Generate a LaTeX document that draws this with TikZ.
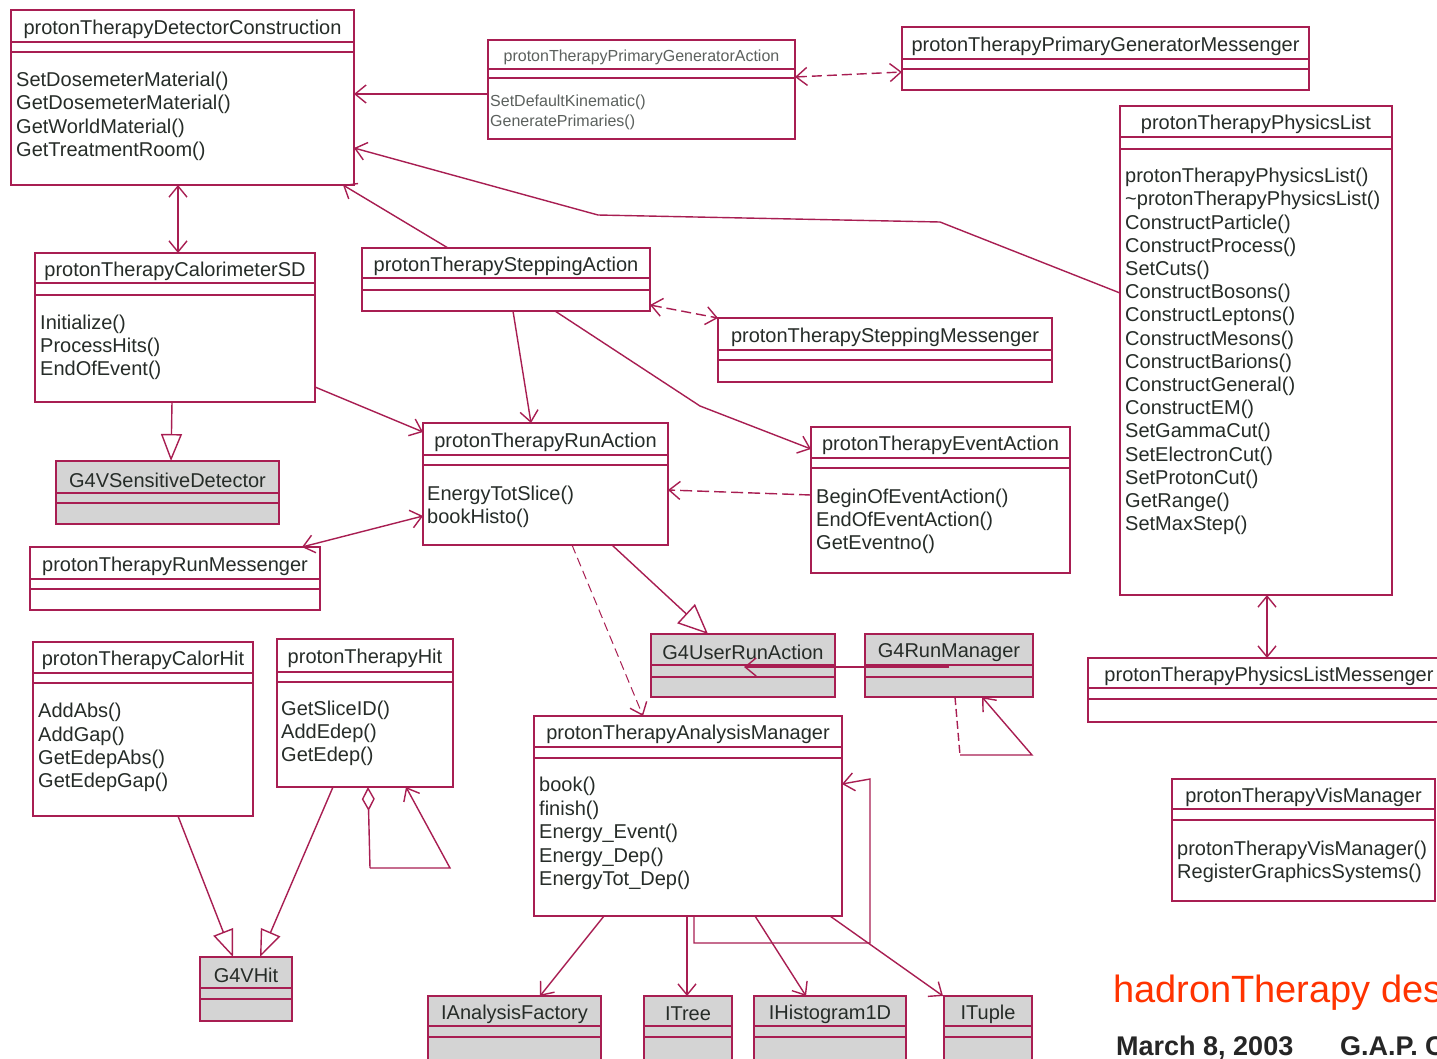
\documentclass[tikz,border=0pt]{standalone}
\usepackage{fontspec}
\setmainfont{Liberation Sans}
\usetikzlibrary{arrows.meta}
\definecolor{umlline}{RGB}{168,30,82}
\definecolor{umltext}{RGB}{38,44,40}
\definecolor{umlgray}{RGB}{212,212,212}
\definecolor{footred}{RGB}{255,51,0}
\tikzset{
  uBarb/.tip={Straight Barb[length=11pt,width=18pt,line width=1.4pt]},
  uTri/.tip={Triangle[length=27pt,width=21pt,fill=white,line width=1.4pt]},
  uTriB/.tip={Triangle[length=30pt,width=26pt,fill=white,line width=1.4pt]},
  uDia/.tip={Diamond[length=24pt,width=13pt,fill=white,line width=1.4pt]},
  classbox/.style={draw=umlline,line width=1.7pt,fill=white,inner sep=0pt,outer sep=0pt},
  grayfill/.style={fill=umlgray},
  sepline/.style={draw=umlline,line width=1.7pt},
  ttl/.style={text=umltext,inner sep=0pt,font=\fontsize{20}{24}\selectfont},
  meth/.style={text=umltext,align=left,inner sep=0pt,anchor=north west},
  conn/.style={draw=umlline,line width=1.4pt},
  assoc/.style={conn,-uBarb},
  biassoc/.style={conn,uBarb-uBarb},
  gen/.style={conn,-uTri},
}
\newcommand\umlclass[9]{%
  \pgfmathsetmacro\umlW{#4-#2}%
  \pgfmathsetmacro\umlH{#5-#3}%
  \node[classbox,#9,minimum width=\umlW pt,minimum height=\umlH pt] (#1) at ({(#2+#4)/2},{(#3+#5)/2}) {};%
  \draw[sepline] (#2,#6) -- (#4,#6) (#2,#7) -- (#4,#7);%
  \node[ttl] (#1-title) at ({(#2+#4)/2},{(#3+#6)/2+3}) {#8};%
}
\newcommand\umlmeth[5]{%
  \node[meth,font=\fontsize{20}{#4}\selectfont] (#1) at (#2,#3-7) {#5};%
}
\begin{document}
\begin{tikzpicture}[x=1pt,y=-1pt]
\useasboundingbox (0,0) rectangle (1437,1058);
\fill[white] (0,0) rectangle (1437,1058);
\clip (0,0) rectangle (1437,1058);

% classes
\umlclass{dc}{11}{10}{354}{185}{42}{52}{protonTherapyDetectorConstruction}{}
\umlmeth{dcm}{16}{79}{23.3}{SetDosemeterMaterial()\\GetDosemeterMaterial()\\GetWorldMaterial()\\GetTreatmentRoom()}

\umlclass{pga}{488}{40}{795}{139}{69}{78}{\fontsize{16}{19}\selectfont\color{umltext!75}protonTherapyPrimaryGeneratorAction}{}
\node[meth,text=umltext!75,font=\fontsize{16}{19.5}\selectfont] (pgam) at (490,100-5) {SetDefaultKinematic()\\GeneratePrimaries()};

\umlclass{pgm}{902}{27}{1309}{90}{59}{69}{protonTherapyPrimaryGeneratorMessenger}{}

\umlclass{pl}{1120}{106}{1392}{595}{137}{149}{protonTherapyPhysicsList}{}
\umlmeth{plm-m}{1125}{175}{23.2}{protonTherapyPhysicsList()\\\textasciitilde protonTherapyPhysicsList()\\ConstructParticle()\\ConstructProcess()\\SetCuts()\\ConstructBosons()\\ConstructLeptons()\\ConstructMesons()\\ConstructBarions()\\ConstructGeneral()\\ConstructEM()\\SetGammaCut()\\SetElectronCut()\\SetProtonCut()\\GetRange()\\SetMaxStep()}

\umlclass{csd}{35}{253}{315}{402}{283}{295}{protonTherapyCalorimeterSD}{}
\umlmeth{csdm}{40}{322}{23}{Initialize()\\ProcessHits()\\EndOfEvent()}

\umlclass{g4vsd}{56}{461}{279}{524}{493}{503}{G4VSensitiveDetector}{grayfill}

\umlclass{rm}{30}{547}{320}{610}{579}{589}{protonTherapyRunMessenger}{}

\umlclass{sa}{362}{248}{650}{311}{278}{290}{protonTherapySteppingAction}{}

\umlclass{sm}{718}{318}{1052}{382}{350}{360}{protonTherapySteppingMessenger}{}

\umlclass{ra}{423}{423}{668}{545}{455}{465}{protonTherapyRunAction}{}
\umlmeth{ram}{427}{493}{23}{EnergyTotSlice()\\bookHisto()}

\umlclass{ea}{811}{427}{1070}{573}{458}{468}{protonTherapyEventAction}{}
\umlmeth{eam}{816}{496}{23}{BeginOfEventAction()\\EndOfEventAction()\\GetEventno()}

\umlclass{gura}{651}{634}{835}{697}{665}{677}{G4UserRunAction}{grayfill}
\umlclass{grm}{865}{634}{1033}{697}{665}{677}{G4RunManager}{grayfill}

\umlclass{am}{534}{716}{842}{916}{747}{758}{protonTherapyAnalysisManager}{}
\umlmeth{amm}{539}{784}{23.5}{book()\\finish()\\Energy\_Event()\\Energy\_Dep()\\EnergyTot\_Dep()}

\umlclass{iaf}{428}{996}{601}{1070}{1026}{1037}{IAnalysisFactory}{grayfill}
\umlclass{itree}{644}{996}{732}{1070}{1026}{1037}{ITree}{grayfill}
\umlclass{ihist}{754}{996}{906}{1070}{1026}{1037}{IHistogram1D}{grayfill}
\umlclass{ituple}{944}{996}{1032}{1070}{1026}{1037}{ITuple}{grayfill}

\umlclass{ch}{33}{642}{253}{816}{673}{683}{protonTherapyCalorHit}{}
\umlmeth{chm}{38}{710}{23.3}{AddAbs()\\AddGap()\\GetEdepAbs()\\GetEdepGap()}

\umlclass{h}{277}{639}{453}{787}{672}{682}{protonTherapyHit}{}
\umlmeth{hm}{281}{708}{23}{GetSliceID()\\AddEdep()\\GetEdep()}

\umlclass{g4vhit}{200}{957}{292}{1021}{988}{999}{G4VHit}{grayfill}

\umlclass{plmsg}{1088}{658}{1450}{722}{688}{699}{protonTherapyPhysicsListMessenger}{}

\umlclass{vm}{1172}{779}{1435}{901}{809}{820}{protonTherapyVisManager}{}
\umlmeth{vmm}{1177}{848}{23}{protonTherapyVisManager()\\RegisterGraphicsSystems()}

% connectors
\draw[assoc] (pga.west |- 0,94) -- (dc.east |- 0,94);
\draw[biassoc,dash pattern=on 10pt off 5pt] (pga.east |- 0,77) -- (pgm.west |- 0,72);
\draw[assoc] (pl.west |- 0,293) -- (940,222) -- (598,215) -- (dc.east |- 0,148);
\draw[assoc] (sa.north -| 448,0) -- (dc.south -| 343,0);
\draw[biassoc] (dc.south -| 178,0) -- (csd.north -| 178,0);
\draw[biassoc,dash pattern=on 10pt off 5pt] (sa.east |- 0,305) -- (sm.north west);
\draw[assoc] (sa.south -| 513,0) -- (ra.north -| 531,0);
\draw[assoc] (sa.south -| 555,0) -- (700,406) -- (ea.west |- 0,449);
\draw[assoc] (csd.east |- 0,387) -- (ra.west |- 0,432);
\draw[biassoc] (rm.north -| 302,0) -- (ra.west |- 0,516);
\draw[assoc,dash pattern=on 12pt off 5pt] (ea.west |- 0,495) -- (ra.east |- 0,490);
\draw[gen] (csd.south -| 172,0) -- (g4vsd.north -| 171,0);
\draw[conn,-uTriB] (ra.south -| 612,0) -- (gura.north -| 708,0);
\draw[assoc,line width=1pt,dash pattern=on 9pt off 5pt] (ra.south -| 572,0) -- (am.north -| 643,0);
\coordinate (grmsrc) at (949,667);
\coordinate (gurtip) at (744,667);
\draw[assoc] (grmsrc) -- (gurtip);
\coordinate (grmA) at (960,755);
\coordinate (grmB) at (1032,755);
\draw[conn,dash pattern=on 8pt off 4pt] (grm.south -| 955,0) -- (grmA);
\draw[assoc] (grmA) -- (grmB) -- (grm.south -| 982,0);
\draw[biassoc] (pl.south -| 1267,0) -- (plmsg.north -| 1267,0);
\draw[assoc] (am.south -| 604,0) -- (iaf.north -| 540,0);
\draw[assoc] (am.south -| 687,0) -- (itree.north -| 687,0);
\draw[assoc] (am.south -| 755,0) -- (ihist.north -| 806,0);
\draw[assoc] (am.south -| 830,0) -- (ituple.north -| 943,0);
\coordinate (amA) at (694,943);
\coordinate (amB) at (870,943);
\coordinate (amC) at (870,779);
\draw[assoc] (am.south -| 694,0) -- (amA) -- (amB) -- (amC) -- (am.east |- 0,784);
\draw[gen] (ch.south -| 178,0) -- (g4vhit.north -| 233,0);
\draw[gen] (h.south -| 333,0) -- (g4vhit.north -| 260,0);
\coordinate (hA) at (370,868);
\coordinate (hB) at (450,868);
\draw[conn,uDia-] (h.south -| 368,0) -- (hA);
\draw[assoc] (hA) -- (hB) -- (h.south -| 406,0);

% footer (cut off at the right edge, as in the reference)
\node[anchor=base west,inner sep=0pt,text=footred,font=\fontsize{38}{40}\selectfont] (foot1) at (1113,1002) {hadronTherapy des};
\node[anchor=base west,inner sep=0pt,text=black!85,font=\bfseries\fontsize{27}{30}\selectfont] (foot2) at (1116,1055) {March 8, 2003};
\node[anchor=base west,inner sep=0pt,text=black!85,font=\bfseries\fontsize{27}{30}\selectfont] (foot3) at (1340,1055) {G.A.P. C};
\end{tikzpicture}
\end{document}
